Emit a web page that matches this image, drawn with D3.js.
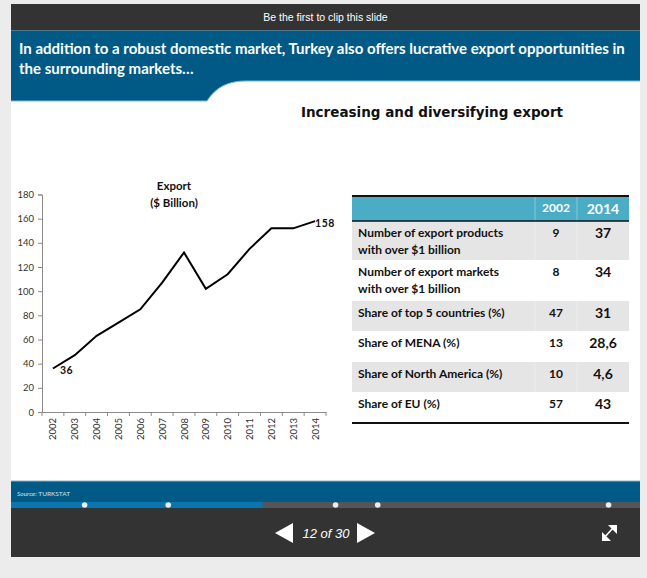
<!DOCTYPE html>
<html>
<head>
<meta charset="utf-8">
<script src="https://cdn.jsdelivr.net/npm/d3@7"></script>
<style>
  html, body { margin: 0; padding: 0; background: #ececec; overflow: hidden; }
  svg { display: block; }
  text { font-family: Lato, sans-serif; }
</style>
</head>
<body>
<svg id="chart" width="647" height="578"></svg>
<script>
// chart data
const years = ['2002','2003','2004','2005','2006','2007','2008','2009','2010','2011','2012','2013','2014']
const exportValues = [36,47,63,74,85,107,132,102,114,135,152,152,158]
const yTicks = [0,20,40,60,80,100,120,140,160,180]

// table data
const tableHeaders = ['2002','2014']
const rowLabels = [
    ['Number of export products','with over $1 billion'],
    ['Number of export markets','with over $1 billion'],
    ['Share of top 5 countries (%)'],
    ['Share of MENA (%)'],
    ['Share of North America (%)'],
    ['Share of EU (%)']
]
const values2002 = ['9','8','47','13','10','57']
const values2014 = ['37','34','31','28,6','4,6','43']

// progress dots are fractions of the deck
const progressMarks = [0.117,0.25,0.516,0.583,0.95]

const svg = d3.select('#chart')

// slide frame
svg.append('rect').attr('x',11).attr('y',4).attr('width',629).attr('height',553).attr('fill','#fff')
svg.append('rect').attr('x',11).attr('y',4).attr('width',629).attr('height',26.5).attr('fill','#333')
svg.append('text').attr('x',325.5).attr('y',21).attr('text-anchor','middle')
    .style('font-family','"Liberation Sans"').style('font-size','10.5px').attr('fill','#fff')
    .text('Be the first to clip this slide')

// blue title band with the curved step
svg.append('path')
    .attr('d','M11,30.5 H640 V81 H246 C228,81 216,87 207,101 H11 Z')
    .attr('fill','#005a85')
svg.append('path')
    .attr('d','M640,81 H246 C228,81 216,87 207,101 H11')
    .attr('fill','none').attr('stroke','#7fb9cf').attr('stroke-width',1)

const titleLines = ['In addition to a robust domestic market, Turkey also offers lucrative export opportunities in','the surrounding markets…']
svg.selectAll('.slide-title').data(titleLines).join('text')
    .attr('class','slide-title')
    .attr('x',19).attr('y',(d,i)=>54+i*19.5)
    .attr('fill','#fff')
    .style('font-size','15px').style('font-weight',700)
    .text(d=>d)

svg.append('text').attr('x',432).attr('y',117).attr('text-anchor','middle')
    .style('font-family','"DejaVu Sans"').style('font-size','13.5px').style('font-weight',700)
    .attr('fill','#111').text('Increasing and diversifying export')

// line chart
const x = d3.scaleBand().domain(years).range([42,326])
const y = d3.scaleLinear().domain([0,180]).range([412,194.5])

const yAxis = svg.append('g').attr('transform','translate(42,0)')
    .call(d3.axisLeft(y).tickValues(yTicks).tickSize(4).tickPadding(4))
const xAxis = svg.append('g').attr('transform','translate(0,412)')
    .call(d3.axisBottom(x).tickSize(0).tickPadding(6))

xAxis.selectAll('.tick text')
    .attr('transform','rotate(-90)')
    .attr('text-anchor','end')
    .attr('dx','-6').attr('dy','-0.1em').attr('x',0).attr('y',0)
    .each(function(){ d3.select(this).attr('x',-6).attr('dx',null).attr('y',3.5).attr('dy',null) })

// ticks sit between the categories
xAxis.selectAll('.edge').data(years.concat('end')).join('line')
    .attr('class','edge')
    .attr('x1',(d,i)=>x.range()[0]+i*x.step()).attr('x2',(d,i)=>x.range()[0]+i*x.step())
    .attr('y1',0).attr('y2',4)

for(const axis of [xAxis,yAxis]){
    axis.selectAll('path,line').attr('stroke','#8a8a8a')
    axis.selectAll('text').attr('fill','#333').style('font-family','Lato').style('font-size','9.5px')
}

const line = d3.line().x((d,i)=>x(years[i])+x.bandwidth()/2).y(d=>y(d))
svg.append('path').datum(exportValues)
    .attr('d',line).attr('fill','none').attr('stroke','#000').attr('stroke-width',2).attr('stroke-linejoin','miter')

// end labels
svg.append('text')
    .attr('x',x(years[0])+x.bandwidth()/2+7).attr('y',y(exportValues[0])+5)
    .style('font-size','10.5px').style('font-weight',700).style('letter-spacing','0.5px').attr('fill','#111')
    .text(exportValues[0])
svg.append('text')
    .attr('x',x(years[12])+x.bandwidth()/2).attr('y',y(exportValues[12])+6)
    .style('font-size','10.5px').style('font-weight',700).style('letter-spacing','0.5px').attr('fill','#111')
    .text(exportValues[12])

svg.selectAll('.chart-title').data(['Export','($ Billion)']).join('text')
    .attr('class','chart-title')
    .attr('x',174).attr('y',(d,i)=>190+i*17)
    .attr('text-anchor','middle').attr('fill','#111')
    .style('font-size','11.5px').style('font-weight',700)
    .text(d=>d)

// table
const tableLeft = 352, tableRight = 629, col1 = 535, col2 = 577
const rowEdges = [221,260,301,331,362,392,423]

svg.append('rect').attr('x',tableLeft).attr('y',196).attr('width',tableRight-tableLeft).attr('height',25).attr('fill','#4bacc6')
svg.selectAll('.row-bg').data(rowLabels).join('rect')
    .attr('class','row-bg')
    .attr('x',tableLeft).attr('y',(d,i)=>rowEdges[i])
    .attr('width',tableRight-tableLeft).attr('height',(d,i)=>rowEdges[i+1]-rowEdges[i])
    .attr('fill',(d,i)=>i%2==0?'#e5e5e5':'#fff')

for(const cx of [col1,col2]){
    svg.append('line').attr('x1',cx).attr('x2',cx).attr('y1',196).attr('y2',423).attr('stroke','#fff').attr('stroke-opacity',0.35)
}
for(const ly of [196,221,423]){
    svg.append('line').attr('x1',tableLeft).attr('x2',tableRight).attr('y1',ly).attr('y2',ly).attr('stroke','#111').attr('stroke-width',ly==221?1.5:2)
}

svg.append('text').attr('x',556).attr('y',212).attr('text-anchor','middle').attr('fill','#fff')
    .style('font-size','12px').style('font-weight',700).text(tableHeaders[0])
svg.append('text').attr('x',603).attr('y',214).attr('text-anchor','middle').attr('fill','#fff')
    .style('font-size','14px').style('font-weight',700).text(tableHeaders[1])

const rows = svg.selectAll('.row').data(rowLabels).join('g').attr('class','row')
rows.each(function(labels,i){
    const g = d3.select(this)
    const base = rowEdges[i]+16
    g.selectAll('text.label').data(labels).join('text')
        .attr('class','label')
        .attr('x',358).attr('y',(d,j)=>base+j*17)
        .attr('fill','#111')
        .style('font-size','12px').style('font-weight',700)
        .text(d=>d)
    g.append('text').attr('x',556).attr('y',base).attr('text-anchor','middle').attr('fill','#111')
        .style('font-size','12px').style('font-weight',700).text(values2002[i])
    g.append('text').attr('x',603).attr('y',base+1).attr('text-anchor','middle').attr('fill','#111')
        .style('font-size','14px').style('font-weight',700).text(values2014[i])
})

// footer
svg.append('rect').attr('x',11).attr('y',481).attr('width',629).attr('height',21).attr('fill','#005a85')
svg.append('line').attr('x1',11).attr('x2',640).attr('y1',481).attr('y2',481).attr('stroke','#7fb9cf')
svg.append('text').attr('x',17).attr('y',496).attr('fill','#d5e4ec')
    .style('font-size','6.5px').html('<tspan font-style="italic">Source:</tspan> TURKSTAT')

// player controls
svg.append('rect').attr('x',11).attr('y',502).attr('width',629).attr('height',55).attr('fill','#333')
const progress = d3.scaleLinear().domain([0,1]).range([11,640])
svg.append('rect').attr('x',11).attr('y',502).attr('width',629).attr('height',6).attr('fill','#555')
svg.append('rect').attr('x',11).attr('y',502).attr('width',progress(12/30)-11).attr('height',6).attr('fill','#0a76ad')
svg.selectAll('.dot').data(progressMarks).join('circle')
    .attr('class','dot')
    .attr('cx',d=>progress(d)).attr('cy',505).attr('r',2.8).attr('fill','#e6eef2')

svg.append('path').attr('d','M293,523 V543 L275,533 Z').attr('fill','#fff')
svg.append('path').attr('d','M357,523 V543 L375,533 Z').attr('fill','#fff')
svg.append('text').attr('x',326).attr('y',538).attr('text-anchor','middle').attr('fill','#fff')
    .style('font-family','"Liberation Sans"').style('font-style','italic').style('font-size','13px')
    .text('12 of 30')
// expand icon
svg.append('path').attr('d','M603,539 L613,528').attr('stroke','#fff').attr('stroke-width',1.6)
svg.append('path').attr('d','M608,525 H617 V534 Z').attr('fill','#fff')
svg.append('path').attr('d','M602,532 V541 H611 Z').attr('fill','#fff')
</script>
</body>
</html>
